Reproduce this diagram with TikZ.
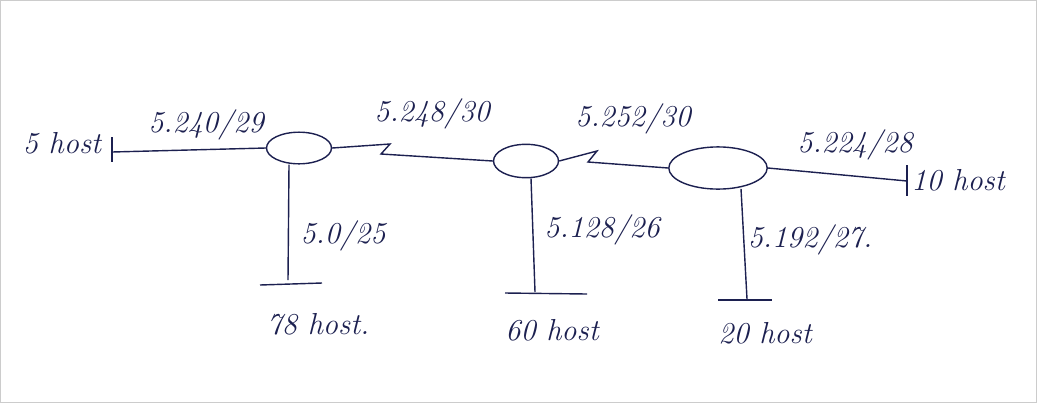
\documentclass[tikz,border=0pt]{standalone}
\usepackage{tikz}
\usepackage{xcolor}
\usetikzlibrary{shapes.geometric}
\definecolor{pen}{HTML}{1C2050}

\begin{document}
\begin{tikzpicture}[x=0.02cm, y=-0.02cm, every node/.style={font=\LARGE\itshape, text=pen}]
\useasboundingbox (0,0) rectangle (1037,403);
\draw[gray!40, line width=0.8pt] (0.5,0.5) rectangle (1036.5,402.5);
% Routers
\node[draw=pen, thick, ellipse, minimum width=37pt, minimum height=18pt, inner sep=0pt] (r1) at (299,148) {};
\node[draw=pen, thick, ellipse, minimum width=37pt, minimum height=19pt, inner sep=0pt] (r2) at (526,161) {};
\node[draw=pen, thick, ellipse, minimum width=56pt, minimum height=24pt, inner sep=0pt] (r3) at (718,168) {};

% Ends of LAN segments
\coordinate (lanA) at (112,152);
\coordinate (lanB) at (907,181);
\coordinate (lanC) at (288,280);
\coordinate (lanD) at (535,292);
\coordinate (lanE) at (747,299);

% Links
\draw[pen, thick] (lanA) -- (r1.west);
\draw[pen, thick] (112,137) -- (112,162);
\draw[pen, thick] (r1.east) -- (390,144) -- (381,154) -- (r2.west);
\draw[pen, thick] (r2.east) -- (597,151) -- (588,162) -- (r3.west);
\draw[pen, thick] (r3.east) -- (lanB);
\draw[pen, thick] (907,165) -- (907,196);
\draw[pen, thick] (r1.south) ++(-10,0) -- (lanC);
\draw[pen, thick] (260,285) -- (322,283);
\draw[pen, thick] (r2.south) ++(5,0) -- (lanD);
\draw[pen, thick] (505,293) -- (587,294);
\draw[pen, thick] (r3.south) ++(23,-1) -- (lanE);
\draw[pen, thick] (718,300) -- (772,300);

% Labels
\node (hA) at (62,143) {5 host};
\node (nA) at (206,125) {5.240/29};
\node (nB) at (432,114) {5.248/30};
\node (nC) at (633,119) {5.252/30};
\node (nD) at (855,145) {5.224/28};
\node (hB) at (958,180) {10 host};
\node (nE) at (343,236) {5.0/25};
\node (hC) at (318,324) {78 host.};
\node (nF) at (602,230) {5.128/26};
\node (hD) at (552,330) {60 host};
\node (nG) at (810,240) {5.192/27.};
\node (hE) at (765,333) {20 host};
\end{tikzpicture}
\end{document}
